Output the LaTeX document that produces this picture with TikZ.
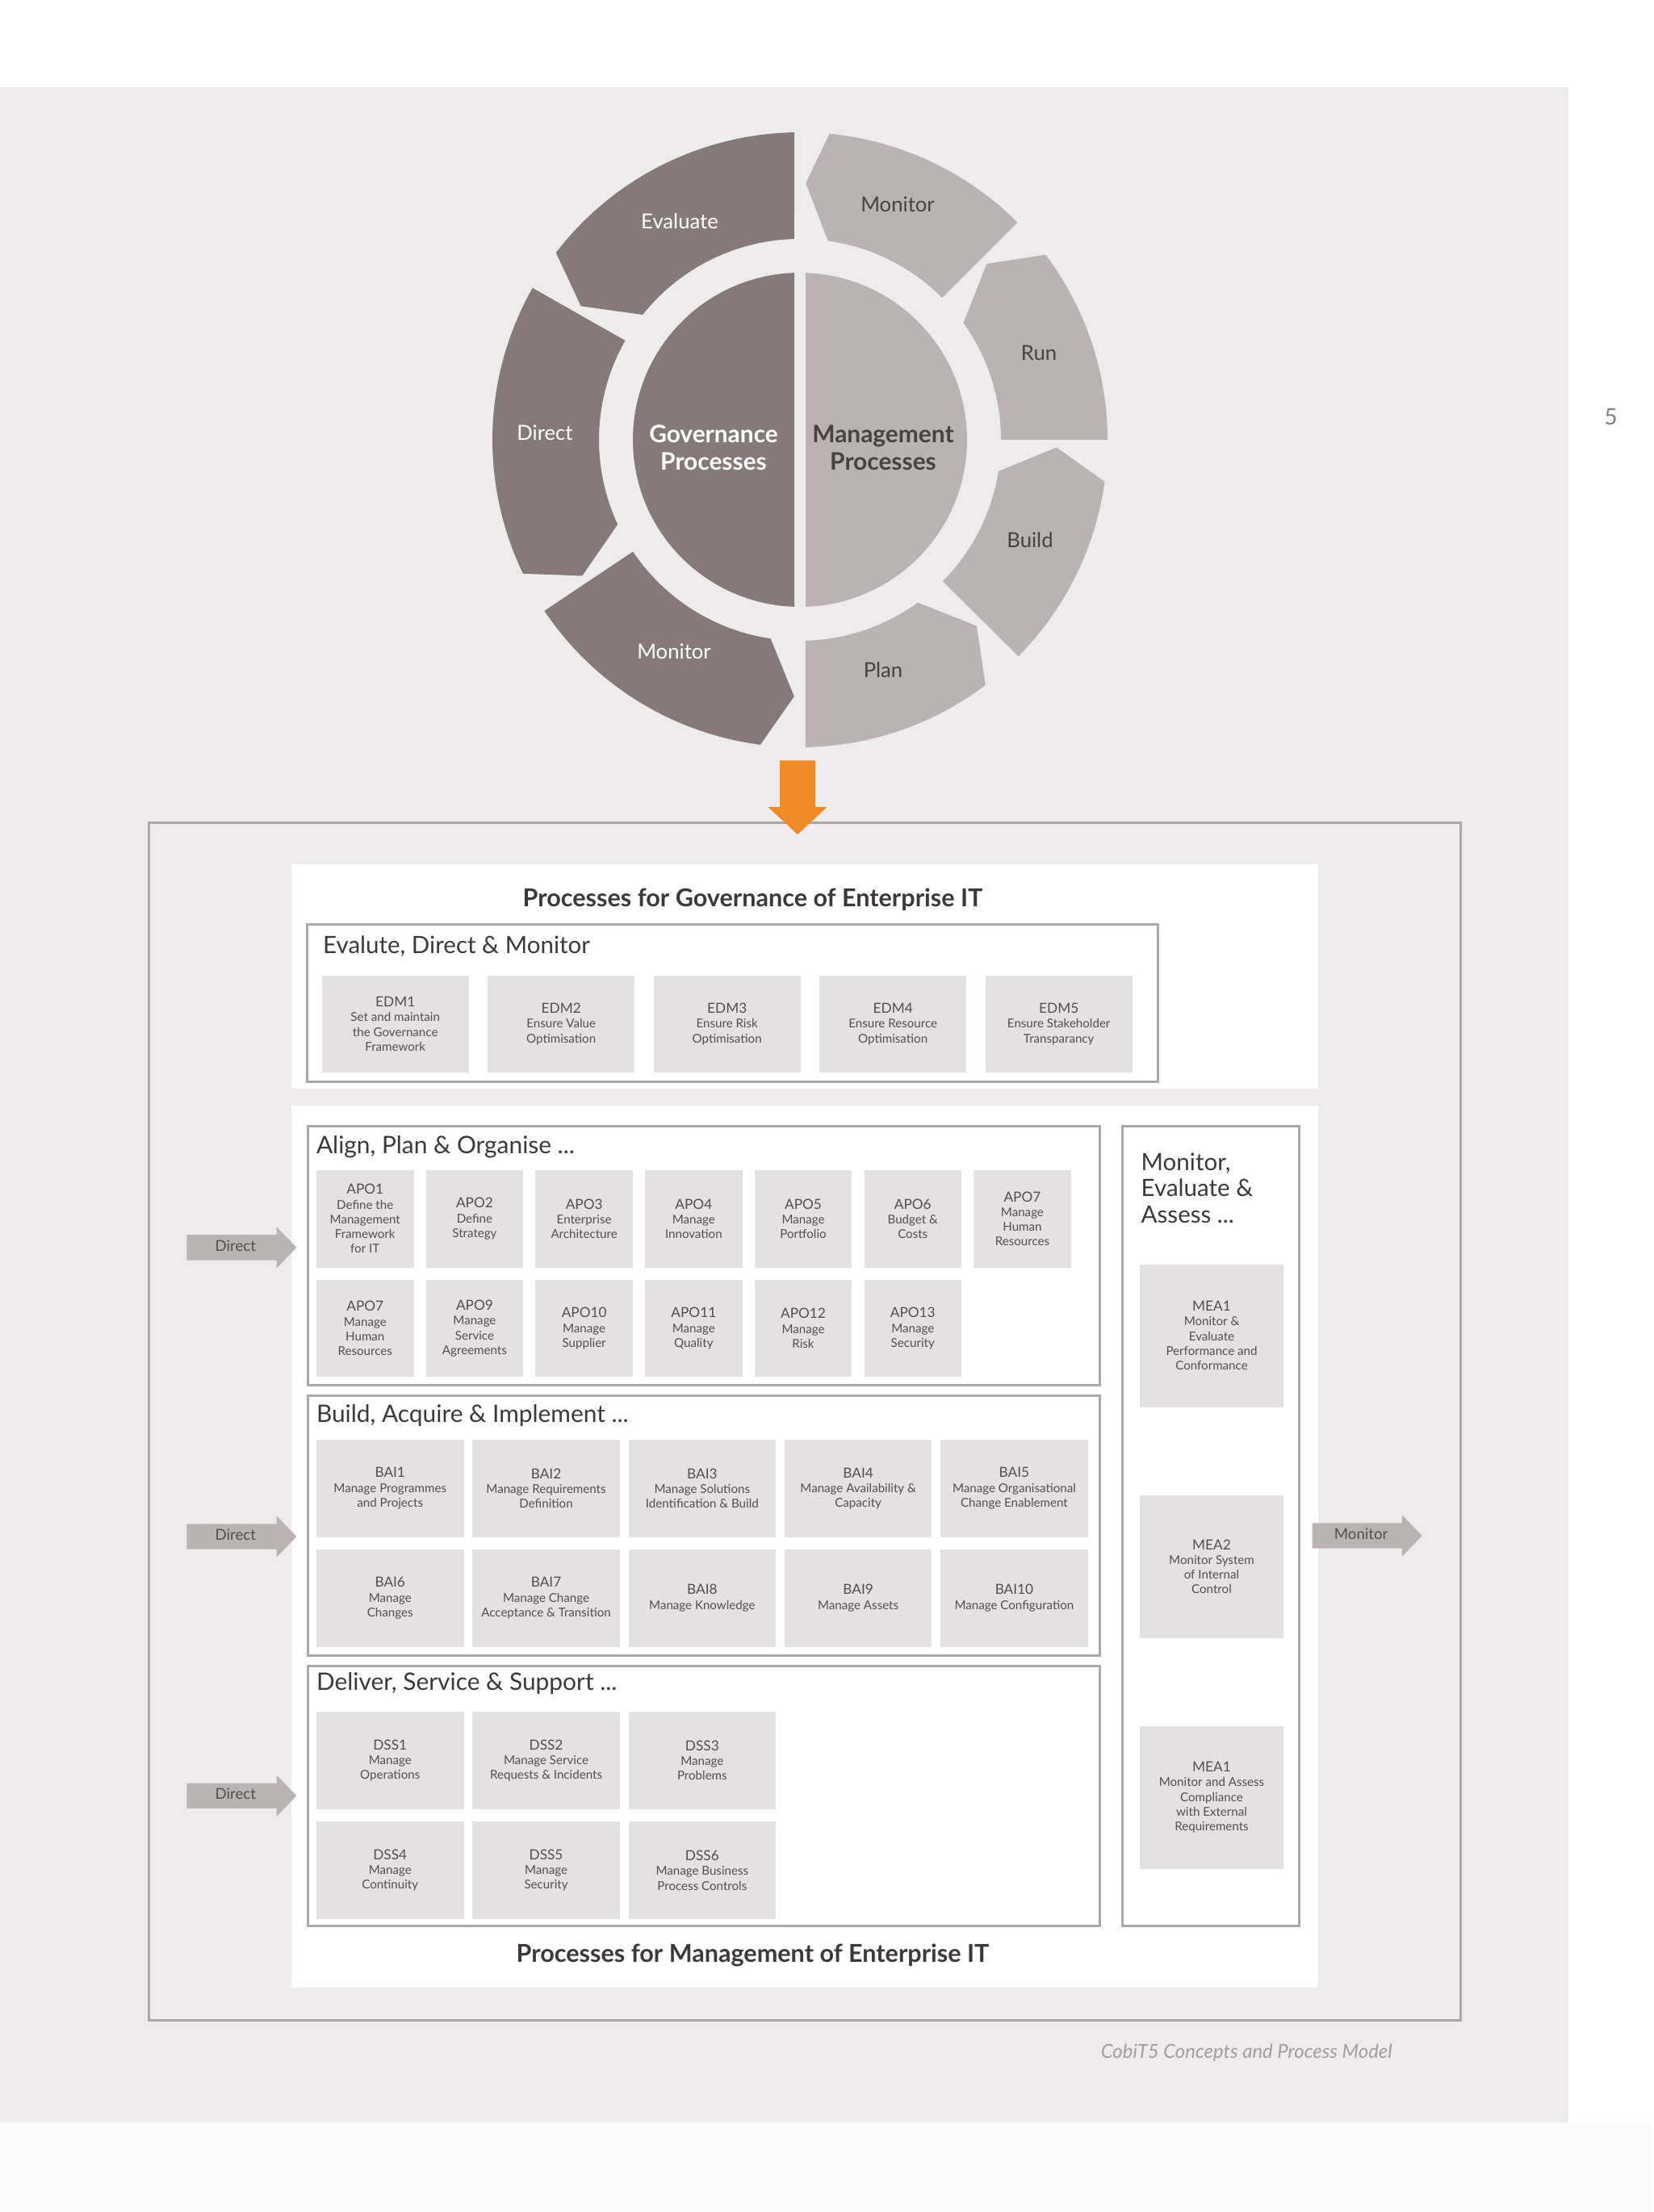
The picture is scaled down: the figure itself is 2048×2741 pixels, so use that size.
\documentclass[tikz,border=0pt]{standalone}
\usepackage{fontspec}
\setmainfont{Lato}
\usetikzlibrary{positioning,shapes.arrows}
\definecolor{pagegrey}{HTML}{EDEBEB}
\definecolor{footgrey}{HTML}{FAFAFA}
\definecolor{boxgrey}{HTML}{E4E1E2}
\definecolor{framegrey}{HTML}{ACA8A8}
\definecolor{govgrey}{HTML}{857A79}
\definecolor{mgmtgrey}{HTML}{BBB3B3}
\definecolor{govorange}{HTML}{F08A24}
\definecolor{titletext}{HTML}{3E3939}
\definecolor{boxtext}{HTML}{554E4E}
\definecolor{mgmttext}{HTML}{4A4242}
\definecolor{captiontext}{HTML}{A39E9E}
\tikzset{
  frame/.style={draw=framegrey, line width=0.3mm, inner sep=0pt, outer sep=0pt, anchor=north west},
  panel/.style={fill=white, inner sep=0pt, outer sep=0pt, anchor=north west},
  procgroup/.style={draw=framegrey, line width=0.3mm, fill=white, inner sep=0pt, outer sep=0pt, anchor=north west},
  proc/.style={fill=boxgrey, text=boxtext, align=center, inner sep=0pt, outer sep=0pt, font=\fontsize{4.3}{5.2}\selectfont},
  edm box/.style={proc, minimum width=18.2mm, minimum height=12mm},
  apo box/.style={proc, minimum width=12.05mm, minimum height=12.05mm},
  bai box/.style={proc, minimum width=18.25mm, minimum height=12.05mm},
  mea box/.style={proc, minimum width=17.8mm, minimum height=17.7mm},
  group title/.style={anchor=base west, inner sep=0pt, text=titletext, font=\fontsize{8.5}{9.3}\selectfont},
  panel title/.style={anchor=base, inner sep=0pt, text=titletext, font=\bfseries\fontsize{8.7}{10}\selectfont},
  flow arrow/.style={single arrow, fill=mgmtgrey, text=boxtext, inner xsep=0pt, inner ysep=0pt, text height=1.95mm, text depth=1.05mm, single arrow head extend=1mm, single arrow tip angle=92, minimum height=13.6mm, font=\fontsize{5.3}{6}\selectfont},
  down arrow/.style={single arrow, fill=govorange, shape border rotate=270, inner sep=0pt, text height=2.13mm, text depth=2.13mm, single arrow head extend=1.45mm, single arrow tip angle=94, minimum height=9.17mm},
  gov seg/.style={fill=govgrey},
  mgmt seg/.style={fill=mgmtgrey},
  gov label/.style={text=white, font=\fontsize{7.3}{8}\selectfont},
  mgmt label/.style={text=mgmttext, font=\fontsize{7.3}{8}\selectfont},
  centre label/.style={align=center, font=\bfseries\fontsize{8.5}{9.7}\selectfont},
}
\newcommand{\pcode}[1]{{\fontsize{4.9pt}{5.2pt}\selectfont #1}}

\begin{document}
\begin{tikzpicture}[x=0.1mm, y=-0.1mm]
\useasboundingbox (0,0) rectangle (2048,2741);
\fill[white] (0,0) rectangle (2048,2741);
\fill[pagegrey] (0,108) rectangle (1943,2630);
\fill[footgrey] (0,2630) rectangle (2048,2741);
\node[text=gray, font=\fontsize{8}{9}\selectfont] (pageno) at (1995.5,517) {5};

%the wheel
\begin{scope}[shift={(991,545)}, x=0.1mm, y=0.1mm]
\fill[gov seg] (91.05:381) arc[start angle=91.05, end angle=142.5, radius=381] -- (148.6:318) -- (141.5:249) arc[start angle=141.5, end angle=91.62, radius=249] -- cycle;
\fill[gov seg] (150.4:381) arc[start angle=150.4, end angle=205.8, radius=381] -- (212:318) -- (204.9:249) arc[start angle=204.9, end angle=150.4, radius=249] -- cycle;
\fill[gov seg] (213.8:381) arc[start angle=213.8, end angle=262.6, radius=381] -- (268.7:318) -- (261.6:249) arc[start angle=261.6, end angle=213.8, radius=249] -- cycle;
\fill[mgmt seg] (45:381) arc[start angle=45, end angle=84.5, radius=381] -- (88.7:318) -- (82:249) arc[start angle=82, end angle=45, radius=249] -- cycle;
\fill[mgmt seg] (0:381) arc[start angle=0, end angle=37, radius=381] -- (43.3:318) -- (35.6:249) arc[start angle=35.6, end angle=0, radius=249] -- cycle;
\fill[mgmt seg] (-44.75:381) arc[start angle=-44.75, end angle=-7.8, radius=381] -- (-1.7:318) -- (-9:249) arc[start angle=-9, end angle=-44.75, radius=249] -- cycle;
\fill[mgmt seg] (-88.95:381) arc[start angle=-88.95, end angle=-52.9, radius=381] -- (-46.5:318) -- (-54.1:249) arc[start angle=-54.1, end angle=-88.4, radius=249] -- cycle;
\fill[gov seg] (-7,206.9) arc[start angle=91.94, end angle=268.06, radius=207] -- cycle;
\fill[mgmt seg] (7,-206.9) arc[start angle=-88.06, end angle=88.06, radius=207] -- cycle;
\node[gov label] (evaluate) at (-149,271) {Evaluate};
\node[gov label] (direct) at (-316,9) {Direct};
\node[gov label] (govmonitor) at (-156,-262) {Monitor};
\node[mgmt label] (mgmtmonitor) at (121,292) {Monitor};
\node[mgmt label] (run) at (296,108) {Run};
\node[mgmt label] (build) at (285,-124) {Build};
\node[mgmt label] (plan) at (103,-285) {Plan};
\node[centre label, text=white] (govcore) at (-107,-10) {Governance\\Processes};
\node[centre label, text=mgmttext] (mgmtcore) at (103,-10) {Management\\Processes};
\end{scope}

%the frame and panels
\node[frame, minimum width=162.5mm, minimum height=148.4mm] (cobit) at (184,1019) {};
\node[down arrow, anchor=tip] (handoff) at (988,1035) {\rule{4.26mm}{0pt}};
\node[panel, minimum width=127.16mm, minimum height=27.8mm] (govpanel) at (361,1071) {};
\node[panel, minimum width=127.16mm, minimum height=109.27mm, below=2.1mm of govpanel] (mgmtpanel) {};
\node[panel title] (govtitle) at (932.5,1123) {Processes for Governance of Enterprise IT};
\node[panel title] (mgmttitle) at (932.5,2431) {Processes for Management of Enterprise IT};

%evaluate, direct and monitor
\node[procgroup, minimum width=105.4mm, minimum height=19.5mm] (edm) at (380,1145) {};
\node[group title, font=\fontsize{8.4}{9.3}\selectfont] (edmtitle) at ([xshift=1.95mm, yshift=-3.67mm]edm.north west) {Evalute, Direct \& Monitor};
\node[edm box, anchor=north west] (edm1) at ([xshift=1.87mm, yshift=-6.4mm]edm.north west) {\pcode{EDM1}\\Set and maintain\\the Governance\\Framework};
\node[edm box, right=2.35mm of edm1] (edm2) {\pcode{EDM2}\\Ensure Value\\Optimisation};
\node[edm box, right=2.35mm of edm2] (edm3) {\pcode{EDM3}\\Ensure Risk\\Optimisation};
\node[edm box, right=2.35mm of edm3] (edm4) {\pcode{EDM4}\\Ensure Resource\\Optimisation};
\node[edm box, right=2.35mm of edm4] (edm5) {\pcode{EDM5}\\Ensure Stakeholder\\Transparancy};

%align, plan and organise
\node[procgroup, minimum width=98.1mm, minimum height=32.17mm] (apo) at (381,1395) {};
\node[group title] (apotitle) at ([xshift=1.03mm, yshift=-3.4mm]apo.north west) {Align, Plan \& Organise ...};
\node[apo box, anchor=north west] (apo1) at ([xshift=1.1mm, yshift=-5.5mm]apo.north west) {\pcode{APO1}\\Define the\\Management\\Framework\\for IT};
\node[apo box, right=1.52mm of apo1] (apo2) {\pcode{APO2}\\Define\\Strategy};
\node[apo box, right=1.52mm of apo2] (apo3) {\pcode{APO3}\\Enterprise\\Architecture};
\node[apo box, right=1.52mm of apo3] (apo4) {\pcode{APO4}\\Manage\\Innovation};
\node[apo box, right=1.52mm of apo4] (apo5) {\pcode{APO5}\\Manage\\Portfolio};
\node[apo box, right=1.52mm of apo5] (apo6) {\pcode{APO6}\\Budget \&\\Costs};
\node[apo box, right=1.52mm of apo6] (apo7) {\pcode{APO7}\\Manage\\Human\\Resources};
\node[apo box, below=1.53mm of apo1] (apo7b) {\pcode{APO7}\\Manage\\Human\\Resources};
\node[apo box, right=1.52mm of apo7b] (apo9) {\pcode{APO9}\\Manage\\Service\\Agreements};
\node[apo box, right=1.52mm of apo9] (apo10) {\pcode{APO10}\\Manage\\Supplier};
\node[apo box, right=1.52mm of apo10] (apo11) {\pcode{APO11}\\Manage\\Quality};
\node[apo box, right=1.52mm of apo11] (apo12) {\pcode{APO12}\\Manage\\Risk};
\node[apo box, right=1.52mm of apo12] (apo13) {\pcode{APO13}\\Manage\\Security};

%build, acquire and implement
\node[procgroup, minimum width=98.1mm, minimum height=32.2mm, below=1.25mm of apo] (bai) {};
\node[group title] (baititle) at ([xshift=1.03mm, yshift=-3.3mm]bai.north west) {Build, Acquire \& Implement ...};
\node[bai box, anchor=north west] (bai1) at ([xshift=1.1mm, yshift=-5.5mm]bai.north west) {\pcode{BAI1}\\Manage Programmes\\and Projects};
\node[bai box, right=1.08mm of bai1] (bai2) {\pcode{BAI2}\\Manage Requirements\\Definition};
\node[bai box, right=1.08mm of bai2] (bai3) {\pcode{BAI3}\\Manage Solutions\\Identification \& Build};
\node[bai box, right=1.08mm of bai3] (bai4) {\pcode{BAI4}\\Manage Availability \&\\Capacity};
\node[bai box, right=1.08mm of bai4] (bai5) {\pcode{BAI5}\\Manage Organisational\\Change Enablement};
\node[bai box, below=1.53mm of bai1] (bai6) {\pcode{BAI6}\\Manage\\Changes};
\node[bai box, right=1.08mm of bai6] (bai7) {\pcode{BAI7}\\Manage Change\\Acceptance \& Transition};
\node[bai box, right=1.08mm of bai7] (bai8) {\pcode{BAI8}\\Manage Knowledge};
\node[bai box, right=1.08mm of bai8] (bai9) {\pcode{BAI9}\\Manage Assets};
\node[bai box, right=1.08mm of bai9] (bai10) {\pcode{BAI10}\\Manage Configuration};

%deliver, service and support
\node[procgroup, minimum width=98.1mm, minimum height=32.2mm, below=1.3mm of bai] (dss) {};
\node[group title] (dsstitle) at ([xshift=1.03mm, yshift=-3.0mm]dss.north west) {Deliver, Service \& Support ...};
\node[bai box, anchor=north west] (dss1) at ([xshift=1.1mm, yshift=-5.7mm]dss.north west) {\pcode{DSS1}\\Manage\\Operations};
\node[bai box, right=1.08mm of dss1] (dss2) {\pcode{DSS2}\\Manage Service\\Requests \& Incidents};
\node[bai box, right=1.08mm of dss2] (dss3) {\pcode{DSS3}\\Manage\\Problems};
\node[bai box, below=1.56mm of dss1] (dss4) {\pcode{DSS4}\\Manage\\Continuity};
\node[bai box, right=1.08mm of dss4] (dss5) {\pcode{DSS5}\\Manage\\Security};
\node[bai box, right=1.08mm of dss5] (dss6) {\pcode{DSS6}\\Manage Business\\Process Controls};

%monitor, evaluate and assess
\node[procgroup, minimum width=21.9mm, minimum height=99.1mm, right=2.8mm of apo.north east, anchor=north west] (mea) {};
\node[group title, align=left, font=\fontsize{8.4}{9.3}\selectfont] (meatitle) at ([xshift=2.3mm, yshift=-12.04mm]mea.north west) {Monitor,\\Evaluate \&\\Assess ...};
\node[mea box, anchor=north west] (mea1) at ([xshift=2.2mm, yshift=-17.16mm]mea.north west) {\pcode{MEA1}\\Monitor \&\\Evaluate\\Performance and\\Conformance};
\node[mea box, below=10.92mm of mea1] (mea2) {\pcode{MEA2}\\Monitor System\\of Internal\\Control};
\node[mea box, below=10.9mm of mea2] (mea1b) {\pcode{MEA1}\\Monitor and Assess\\Compliance\\with External\\Requirements};

%drawings of arrows
\node[flow arrow, left=1.26mm of apo.west, yshift=1mm] (dirapo) {Direct};
\node[flow arrow, left=1.26mm of bai.west, yshift=-1.38mm] (dirbai) {Direct};
\node[flow arrow, left=1.26mm of dss.west] (dirdss) {Direct};
\node[flow arrow, right=1.6mm of mea.east, yshift=-1.25mm] (monmea) {Monitor};

\node[text=captiontext, font=\itshape\fontsize{6.8}{8}\selectfont, anchor=base east] (credit) at (1737,2550) {CobiT5 Concepts and Process Model};
\end{tikzpicture}
\end{document}
